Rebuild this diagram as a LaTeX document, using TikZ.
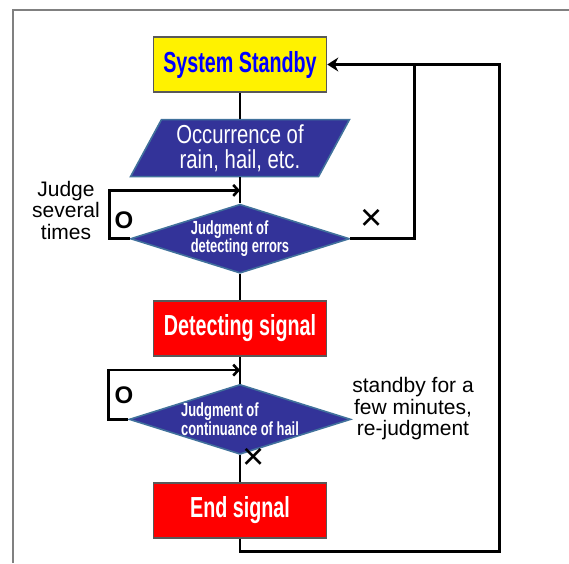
\documentclass[tikz,border=0pt]{standalone}
\usepackage{fontspec}
\setmainfont{Liberation Sans}
\newfontfamily\narrowfont{Liberation Sans}[FakeStretch=0.68]
\newfontfamily\thinfont{Liberation Sans}[FakeStretch=0.78]
\usetikzlibrary{shapes.geometric,arrows,arrows.meta,positioning}

\definecolor{boxgray}{RGB}{89,89,89}
\definecolor{flowblue}{RGB}{51,51,153}
\definecolor{edgeblue}{RGB}{65,113,156}
\definecolor{titleblue}{RGB}{0,0,255}
\definecolor{framegray}{RGB}{128,128,128}

\begin{document}
\begin{tikzpicture}[x=1pt, y=-1pt, node distance=26pt]
\tikzstyle{flow}=[line width=2.6pt, black]
\tikzstyle{process}=[rectangle, draw=boxgray, line width=1.6pt, minimum width=173pt, minimum height=55pt, inner sep=0pt, text=white, font=\narrowfont\bfseries\fontsize{29}{30}\selectfont]
\tikzstyle{dataio}=[trapezium, trapezium left angle=62, trapezium right angle=118, trapezium stretches=true, draw=edgeblue, line width=1.6pt, fill=flowblue, minimum width=219pt, minimum height=57pt, inner sep=0pt, text=white, align=center, font=\thinfont\fontsize{26}{25}\selectfont]
\tikzstyle{decision}=[diamond, aspect=3.17, draw=edgeblue, line width=1.6pt, fill=flowblue, minimum width=219pt, minimum height=69pt, inner sep=0pt, text=white, align=left, font=\narrowfont\bfseries\fontsize{19}{15}\selectfont]
\tikzstyle{note}=[align=center, inner sep=0pt, font=\fontsize{21}{21.5}\selectfont]
\tikzstyle{answer}=[inner sep=0pt, font=\fontsize{24}{24}\selectfont]
\tikzstyle{refusal}=[inner sep=0pt, font=\fontsize{38}{38}\selectfont]
\useasboundingbox (0,0) rectangle (569,563);
\draw[framegray, line width=2pt] (13,563) |- (569,10);

\node[process, fill=yellow, text=titleblue] (standby) at (240,64.5) {System Standby};
\node[dataio, below=of standby]             (occur)  {Occurrence of\\rain, hail, etc.};
\node[decision, below=of occur]             (judge1) {Judgment of\\detecting errors};
\node[process, fill=red, below=of judge1]   (detect) {Detecting signal};
\node[decision, below=27pt of detect]       (judge2) {Judgment of\\continuance of hail};
\node[process, fill=red, below=27pt of judge2] (endsig) {End signal};

\node[note]    (several) at (66,210)  {Judge\\several\\times};
\node[note]    (wait)    at (413,409) {standby for a\\few minutes,\\re-judgment};
\node[answer]  (yes1)    at (124,220) {\bfseries O};
\node[refusal] (no1)     at (372,220) {×};
\node[answer]  (yes2)    at (124,395) {\bfseries O};
\node[refusal] (no2)     at (254,459) {×};

\coordinate (retry) at ([xshift=87pt]standby.east);
\coordinate (back)  at ([xshift=172pt]standby.east);

\draw[flow] (standby) -- (standby |- occur.north);
\draw[flow] (standby |- occur.south) -- coordinate (loop1) (judge1.north);
\draw[flow] (judge1) -- (detect);
\draw[flow] (detect.south) -- coordinate (loop2) (judge2.north);
\draw[flow] (judge2) -- (endsig);
\draw[flow, -{Straight Barb[length=5pt,width=11pt]}] (judge1.west) -- ++(-20,0) |- (loop1);
\draw[flow, -{Straight Barb[length=5pt,width=11pt]}] (judge2.west) -- ++(-20,0) |- (loop2);
\draw[flow] (endsig.south) -- ++(0,13) -| (back) -- (retry);
\draw[flow, -{Stealth[length=11pt,width=14pt]}] (judge1.east) -| (retry) -- (standby.east);
\end{tikzpicture}
\end{document}
